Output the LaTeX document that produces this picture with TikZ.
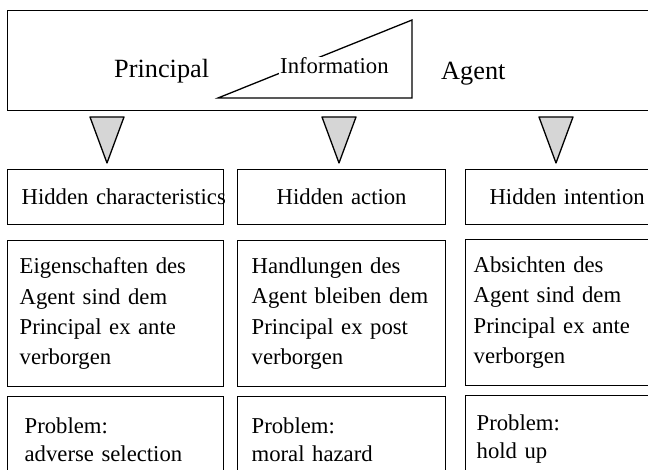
\documentclass[tikz,border=0pt]{standalone}
\usepackage{fontspec}
\setmainfont{Liberation Serif}
\usepackage{tikz}

\tikzset{
  box/.style={draw, line width=1.3pt, anchor=north west, inner ysep=0pt, align=left},
  head/.style={box, align=center, inner xsep=14pt, minimum height=55pt, font=\fontsize{22.7}{28}\selectfont},
  body/.style={box, minimum height=146pt, font=\fontsize{22.7}{30.3}\selectfont},
  prob/.style={box, minimum height=86pt, font=\fontsize{22.7}{28}\selectfont},
  tri/.style={draw, line width=1.3pt, fill=black!16, line join=round},
  big/.style={anchor=base west, inner sep=0pt, font=\fontsize{26.3}{30}\selectfont},
}

\begin{document}
\begin{tikzpicture}[x=1pt, y=-1pt]
\useasboundingbox (0,0) rectangle (648,470);
\clip (0,0) rectangle (648,470);
%\draw[very thin,color=gray] (0,0) grid[step=50] (648,470);
\node[box, minimum width=653pt, minimum height=100pt] (pa) at (7,10) {};
\draw[line width=1.3pt] (218,98) -- (412,20) -- (412,98) -- cycle;
\node[big] (principal) at (114,78) {Principal};
\node[anchor=base west, inner sep=1pt, fill=white, font=\fontsize{22.7}{28}\selectfont] (info) at (279,74) {Information};
\node[big] (agent) at (441,80) {Agent};
\foreach \x in {107,339,556}
  \draw[tri] (\x-17,117) -- (\x+17,117) -- (\x,163) -- cycle;
% hidden ...
\node[head, text width=188pt] (hc) at (7,169) {\mbox{Hidden characteristics}};
\node[head, text width=180pt] (ha) at (237,169) {Hidden action};
\node[head, text width=175pt] (hi) at (465,169) {Hidden intention};
% descriptions
\node[body, inner xsep=12pt, text width=192pt] (dc) at (7,240) {Eigenschaften des\\Agent sind dem\\Principal ex ante\\verborgen};
\node[body, inner xsep=14pt, text width=180pt] (da) at (237,240) {Handlungen des\\Agent bleiben dem\\Principal ex post\\verborgen};
\node[body, inner xsep=8pt, text width=187pt] (di) at (465,239) {Absichten des\\Agent sind dem\\Principal ex ante\\verborgen};
% problems
\node[prob, inner xsep=17pt, text width=182pt] (pc) at (7,396) {Problem:\\adverse selection};
\node[prob, inner xsep=14pt, text width=180pt] (pa2) at (237,396) {Problem:\\moral hazard};
\node[prob, inner xsep=11pt, text width=181pt] (pi) at (465,395) {Problem:\\hold up};
\end{tikzpicture}
\end{document}
